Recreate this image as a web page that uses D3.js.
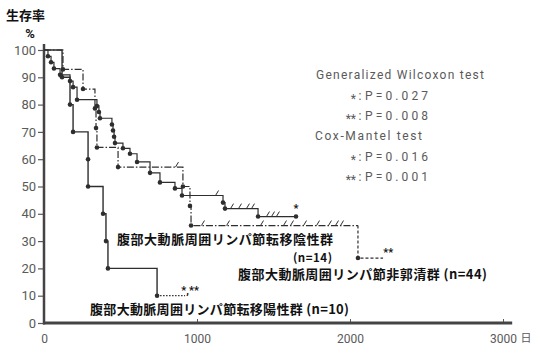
<!DOCTYPE html>
<html>
<head>
<meta charset="utf-8">
<script src="https://cdn.jsdelivr.net/npm/d3@7"></script>
<style>
  body { margin: 0; background: #fff; }
</style>
</head>
<body>
<script>
// axis ticks
const yTicks = [0, 10, 20, 30, 40, 50, 60, 70, 80, 90, 100];
const xTicks = [0, 1000, 2000, 3000];

// 転移陽性群 (n=10): event day, survival (%) after the event
const posDays = [118, 170, 190, 288, 288, 386, 405, 418, 739];
const posSurv = [90, 80, 70, 60, 50, 40, 30, 20, 10];
const posLastDay = 922;

// 非郭清群 (n=44)
const ndDays = [26, 46, 65, 105, 170, 190, 216, 346, 359, 366, 444, 451, 458, 464,
  516, 562, 608, 693, 758, 856, 902, 1170, 1183, 1399];
const ndSurv = [97.7, 95.5, 93.2, 90.9, 88.6, 86.4, 81.8, 79.5, 77.3, 75.0, 72.7, 70.5, 68.2, 65.9,
  64.0, 62.0, 59.0, 55.0, 51.5, 49.3, 46.7, 44.1, 41.9, 39.0];
const ndCensor = [1131, 1229, 1281, 1333, 1366, 1464, 1497, 1529];
const ndLastDay = 1647;

// 転移陰性群 (n=14)
const negDays = [124, 255, 333, 340, 346, 484, 908, 954, 961, 2052];
const negSurv = [92.9, 85.7, 78.6, 71.4, 64.3, 57.1, 50.0, 42.9, 35.7, 23.8];
const negCensor = [869, 1039, 1203, 1425, 1575, 1621, 1706, 1791, 1869, 1915, 1948];
const negLastDay = 2216;

const testNames = ["Generalized Wilcoxon test", "Cox-Mantel test"];
const pOne = ["0.027", "0.016"];
const pTwo = ["0.008", "0.001"];

const W = 534, H = 346;
const ink = "#2e2e2e", grey = "#5a5a5a";
const jp = "'Noto Sans CJK JP', sans-serif";
const num = "Roboto, 'Liberation Sans', sans-serif";

const svg = d3.select("body").append("svg")
  .attr("width", W).attr("height", H)
  .attr("viewBox", [0, 0, W, H]);

const x = d3.scaleLinear().domain([0, 3000]).range([44, 503]);
const y = d3.scaleLinear().domain([0, 100]).range([323, 50]);

// y axis
svg.append("g")
  .attr("transform", `translate(${x(0)},0)`)
  .call(d3.axisLeft(y).tickValues(yTicks).tickSize(6).tickPadding(2).tickSizeOuter(0))
  .call(g => g.select(".domain").remove())
  .call(g => g.selectAll(".tick line").attr("stroke", grey).attr("stroke-width", 1.2))
  .call(g => g.selectAll(".tick text")
    .attr("fill", grey).attr("font-family", num).attr("font-size", 13));

// x axis
svg.append("g")
  .attr("transform", `translate(0,${y(0)})`)
  .call(d3.axisBottom(x).tickValues(xTicks).tickFormat(d3.format("d"))
    .tickSize(-4).tickPadding(11).tickSizeOuter(0))
  .call(g => g.select(".domain").remove())
  .call(g => g.selectAll(".tick line").attr("stroke", grey))
  .call(g => g.selectAll(".tick text")
    .attr("fill", grey).attr("font-family", num).attr("font-size", 12));

svg.append("line")
  .attr("x1", x(0)).attr("x2", x(0))
  .attr("y1", y(0) + 1.5).attr("y2", y(100) - 6)
  .attr("stroke", "#444").attr("stroke-width", 2.5);
svg.append("line")
  .attr("x1", x(0) - 1).attr("x2", x(3060))
  .attr("y1", y(0)).attr("y2", y(0))
  .attr("stroke", "#444").attr("stroke-width", 2.8);

svg.append("text").attr("x", x(3150)).attr("y", y(0) + 19)
  .attr("text-anchor", "middle").attr("fill", grey)
  .attr("font-family", jp).attr("font-size", 11).text("日");

svg.append("text").attr("x", 6).attr("y", 20)
  .attr("font-family", jp).attr("font-weight", "bold").attr("font-size", 13)
  .attr("textLength", 39).attr("lengthAdjust", "spacing").attr("fill", "#111")
  .text("生存率");
svg.append("text").attr("x", 30).attr("y", 38).attr("text-anchor", "middle")
  .attr("font-family", num).attr("font-weight", "bold").attr("font-size", 13)
  .attr("fill", "#111").text("%");

// curves
const stepLine = d3.line().x(d => x(d[0])).y(d => y(d[1])).curve(d3.curveStepAfter);
const toPts = (days, surv) => [[0, 100], ...days.map((d, i) => [d, surv[i]])];
const survAt = (days, surv, d) => {
  let s = 100;
  days.forEach((t, i) => { if (t <= d) s = surv[i]; });
  return s;
};

function drawCurve(days, surv, opts) {
  const pts = toPts(days, surv);
  let main;
  if (opts.tail) {
    main = pts.slice(0, opts.tailFrom + 1).concat([opts.tail[0]]);
  } else {
    main = pts.concat([[opts.last, surv[surv.length - 1]]]);
  }
  svg.append("path")
    .attr("d", stepLine(main))
    .attr("fill", "none").attr("stroke", ink)
    .attr("stroke-width", opts.width || 1.2)
    .attr("stroke-dasharray", opts.dash || null);
  if (opts.tail) {
    svg.append("path")
      .attr("d", stepLine(opts.tail))
      .attr("fill", "none").attr("stroke", ink)
      .attr("stroke-width", 1.2).attr("stroke-dasharray", opts.tailDash);
  }
  svg.append("g").selectAll("circle")
    .data(pts.slice(1).concat(opts.endDot ? [[opts.last, surv[surv.length - 1]]] : []))
    .join("circle")
    .attr("cx", d => x(d[0])).attr("cy", d => y(d[1]))
    .attr("r", 2.3).attr("fill", ink);
  if (opts.censor) {
    svg.append("g").selectAll("path")
      .data(opts.censor)
      .join("path")
      .attr("d", d => {
        const cx = x(d), cy = y(survAt(days, surv, d));
        return `M${cx - 1.5},${cy} L${cx + 1.5},${cy - 5}`;
      })
      .attr("fill", "none").attr("stroke", ink).attr("stroke-width", 1);
  }
}

// positive (n=10)
drawCurve(posDays, posSurv, {
  width: 1.4,
  tailFrom: posDays.length,
  tail: [[posDays[posDays.length - 1], 10], [posLastDay, 10]],
  tailDash: "1.5,1.5"
});

// non-dissected (n=44)
drawCurve(ndDays, ndSurv, { last: ndLastDay, censor: ndCensor, endDot: true });

// negative (n=14)
const nLast = negDays.length - 1;
drawCurve(negDays, negSurv, {
  dash: "7,2,1.5,2",
  tailFrom: nLast,
  tail: [[negDays[nLast], negSurv[nLast - 1]], [negDays[nLast], negSurv[nLast]], [negLastDay, negSurv[nLast]]],
  tailDash: "3,2",
  censor: negCensor
});

// significance marks at curve ends
const mark = (t, d, s) => svg.append("text")
  .attr("x", x(d)).attr("y", y(s))
  .attr("text-anchor", "middle").attr("fill", "#111")
  .attr("font-family", num).attr("font-size", 11).attr("font-weight", "bold")
  .text(t);
mark("*,**", 955, 10.8);
mark("**", 2250, 24.5);
mark("*", ndLastDay, 40.5);

// test legend
const lg = svg.append("g").attr("fill", grey).attr("font-family", num).attr("font-size", 12);
testNames.forEach((name, i) => {
  const y0 = 79 + i * 61;
  lg.append("text").attr("x", i ? 315 : 316).attr("y", y0)
    .attr("textLength", i ? 107 : 168).attr("lengthAdjust", "spacing").text(name);
  [["*", pOne[i]], ["**", pTwo[i]]].forEach(([s, p], j) => {
    const yy = y0 + 21 + j * 20;
    lg.append("text").attr("x", 356).attr("y", yy + 3).attr("text-anchor", "end")
      .attr("font-size", 12).text(s);
    lg.append("text").attr("x", 360).attr("y", yy).attr("text-anchor", "middle").text(":");
    lg.append("text").attr("x", 365).attr("y", yy)
      .attr("textLength", 63).attr("lengthAdjust", "spacing").text("P=" + p);
  });
});

// group labels
const label = (t, lx, ly, len, size) => svg.append("text")
  .attr("x", lx).attr("y", ly)
  .attr("font-family", jp).attr("font-weight", "bold").attr("font-size", size || 13)
  .attr("fill", "#111").attr("textLength", len).attr("lengthAdjust", "spacing")
  .text(t);
label("腹部大動脈周囲リンパ節転移陰性群", 117, 244, 216);
label("(n=14)", 293, 262, 39, 11.5);
label("腹部大動脈周囲リンパ節非郭清群 (n=44)", 238, 279, 249);
label("腹部大動脈周囲リンパ節転移陽性群 (n=10)", 90, 314, 259);
</script>
</body>
</html>
